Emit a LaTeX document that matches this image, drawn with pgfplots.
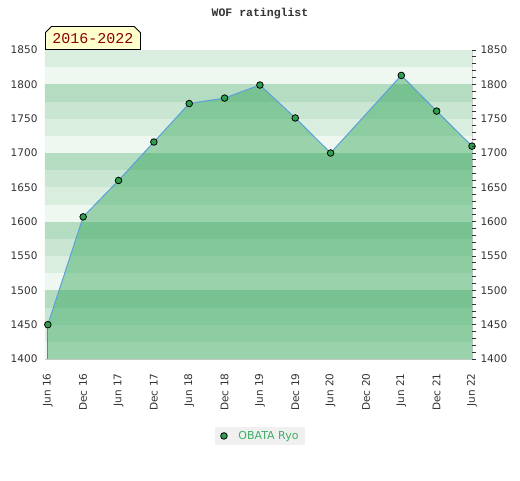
\documentclass[border=0pt]{standalone}
\usepackage{pgfplots}
\pgfplotsset{compat=1.18}
\usepackage{fontspec}
\setmainfont{DejaVu Sans}
\newfontfamily\mono{Liberation Mono}
\usetikzlibrary{shapes.misc}
\definecolor{bA}{HTML}{B3DCC1}
\definecolor{bB}{HTML}{C8E6D2}
\definecolor{bC}{HTML}{DAEEE0}
\definecolor{bD}{HTML}{EFF7F1}
\definecolor{areafill}{RGB}{42,162,81}
\definecolor{linec}{RGB}{90,160,220}
\definecolor{markc}{RGB}{46,158,80}
\definecolor{edgec}{RGB}{50,170,85}
\definecolor{labgray}{HTML}{333333}
\definecolor{leggray}{HTML}{F0F0F0}
\definecolor{legtext}{RGB}{60,175,100}
\definecolor{boxyellow}{HTML}{FFFFCC}
\definecolor{darkred}{HTML}{8B0000}
\begin{document}
\begin{tikzpicture}
\path[use as bounding box, fill=white] (0,0) rectangle (520pt,480pt);
\node[font=\mono\bfseries\fontsize{11.5}{13}\selectfont, text=labgray] at (260pt,466.5pt) {WOF ratinglist};
\begin{axis}[
  at={(45pt,121pt)}, anchor=south west, scale only axis,
  width=427pt, height=309pt,
  xmin=-0.08, xmax=12, ymin=1400, ymax=1850,
  axis line style={draw=black!20},
  tick style={draw=none},
  ytick={1400,1450,...,1850},
  xtick={0,...,12},
  xticklabels={Jun 16,Dec 16,Jun 17,Dec 17,Jun 18,Dec 18,Jun 19,Dec 19,Jun 20,Dec 20,Jun 21,Dec 21,Jun 22},
  x tick label style={rotate=90, anchor=east},
  xticklabel shift=11pt,
  yticklabel shift=4pt,
  tick label style={font=\fontsize{10.5}{12}\selectfont, text=labgray},
  /pgf/number format/assume math mode=true,
  /pgf/number format/1000 sep={},
  ytick pos=left,
  legend style={at={(0.5035,-0.249)}, anchor=center, fill=leggray, draw=none,
    font=\fontsize{11}{13}\selectfont, text=legtext, inner xsep=4pt, inner ysep=2pt},
  legend image code/.code={\path (0pt,0pt) (16pt,0pt);
    \draw[mark=*, mark size=3.3pt, mark options={fill=markc, draw=black, line width=0.8pt}] plot coordinates {(4pt,0pt)};},
  legend cell align=left,
]
\fill[bD] (axis cs:-1,1400) rectangle (axis cs:13,1425);
\fill[bC] (axis cs:-1,1425) rectangle (axis cs:13,1450);
\fill[bB] (axis cs:-1,1450) rectangle (axis cs:13,1475);
\fill[bA] (axis cs:-1,1475) rectangle (axis cs:13,1500);
\fill[bD] (axis cs:-1,1500) rectangle (axis cs:13,1525);
\fill[bC] (axis cs:-1,1525) rectangle (axis cs:13,1550);
\fill[bB] (axis cs:-1,1550) rectangle (axis cs:13,1575);
\fill[bA] (axis cs:-1,1575) rectangle (axis cs:13,1600);
\fill[bD] (axis cs:-1,1600) rectangle (axis cs:13,1625);
\fill[bC] (axis cs:-1,1625) rectangle (axis cs:13,1650);
\fill[bB] (axis cs:-1,1650) rectangle (axis cs:13,1675);
\fill[bA] (axis cs:-1,1675) rectangle (axis cs:13,1700);
\fill[bD] (axis cs:-1,1700) rectangle (axis cs:13,1725);
\fill[bC] (axis cs:-1,1725) rectangle (axis cs:13,1750);
\fill[bB] (axis cs:-1,1750) rectangle (axis cs:13,1775);
\fill[bA] (axis cs:-1,1775) rectangle (axis cs:13,1800);
\fill[bD] (axis cs:-1,1800) rectangle (axis cs:13,1825);
\fill[bC] (axis cs:-1,1825) rectangle (axis cs:13,1850);
\addplot[draw=none, fill=areafill, fill opacity=0.43, forget plot] coordinates {
(0,1450) (1,1607) (2,1660) (3,1716) (4,1772) (5,1780) (6,1799) (7,1751) (8,1700) (10,1813) (11,1761) (12,1710)
} \closedcycle;
\addplot[edgec, line width=1pt, forget plot] coordinates {(0,1400) (0,1450)};
\addplot[edgec, line width=1pt, forget plot] coordinates {(12,1400) (12,1710)};
\addplot[linec, line width=1pt, mark=*, mark size=3.3pt,
  mark options={fill=markc, draw=black, line width=0.8pt}] coordinates {
(0,1450) (1,1607) (2,1660) (3,1716) (4,1772) (5,1780) (6,1799) (7,1751) (8,1700) (10,1813) (11,1761) (12,1710)
};
\addlegendentry{OBATA Ryo}
\end{axis}
\begin{axis}[
  at={(45pt,121pt)}, anchor=south west, scale only axis,
  width=427pt, height=309pt,
  xmin=-0.08, xmax=12, ymin=1400, ymax=1850,
  axis x line=none, axis y line*=right,
  axis line style={draw=none},
  ytick={1400,1450,...,1850},
  minor y tick num=4,
  tick align=outside,
  major tick length=4pt, minor tick length=4pt,
  tick style={draw=labgray, line width=0.8pt},
  yticklabel shift=1pt,
  tick label style={font=\fontsize{10.5}{12}\selectfont, text=labgray},
  /pgf/number format/assume math mode=true,
  /pgf/number format/1000 sep={},
]
\end{axis}
\node[chamfered rectangle, chamfered rectangle corners={north west, north east},
  chamfered rectangle xsep=3pt, chamfered rectangle ysep=3pt,
  draw=black, line width=0.8pt, fill=boxyellow, minimum width=95pt, minimum height=23pt,
  inner sep=0pt, anchor=south west, text=darkred, font=\mono\fontsize{15}{17}\selectfont]
  at (45pt,430pt) {2016-2022};
\end{tikzpicture}
\end{document}
